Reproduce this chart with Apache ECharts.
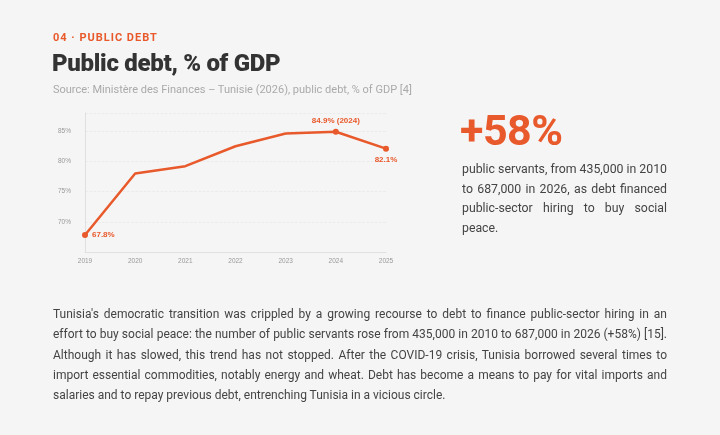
<!DOCTYPE html>
<html>
<head>
<meta charset="utf-8">
<script src="https://cdn.jsdelivr.net/npm/echarts@6/dist/echarts.min.js"></script>
<style>
  html, body { margin: 0; padding: 0; background: #f5f5f5; }
  body { width: 720px; height: 435px; position: relative; overflow: hidden; font-family: Roboto, "Noto Sans", sans-serif; }
  #chart { position: absolute; left: 0; top: 0; width: 720px; height: 435px; }
  .kicker { position: absolute; left: 53px; top: 31px; font-size: 11px; font-weight: 700; color: #e8592b; letter-spacing: 1px; }
  .title { position: absolute; left: 52px; top: 49px; font-size: 24px; font-weight: 900; color: #333; letter-spacing: -0.3px; }
  .source { position: absolute; left: 53px; top: 83px; font-size: 11px; color: #aaa; }
  .big { position: absolute; left: 460px; top: 105px; font-size: 43px; font-weight: 700; color: #e8592b; letter-spacing: -0.5px; }
  .side { position: absolute; left: 462px; top: 160px; width: 205px; font-size: 12.3px; line-height: 19.5px; color: #444; }
  .para { position: absolute; left: 53px; top: 304px; width: 614px; font-size: 12px; line-height: 20.3px; color: #444; }
  .ln { text-align: justify; text-align-last: justify; white-space: nowrap; }
  .ln.last { text-align-last: left; }
</style>
</head>
<body>
<div id="chart"></div>
<div class="kicker">04 · PUBLIC DEBT</div>
<div class="title">Public debt, % of GDP</div>
<div class="source">Source: Ministère des Finances – Tunisie (2026), public debt, % of GDP [4]</div>
<div class="big">+58%</div>
<div class="side">
  <div class="ln">public servants, from 435,000 in 2010</div>
  <div class="ln">to 687,000 in 2026, as debt financed</div>
  <div class="ln">public-sector hiring to buy social</div>
  <div class="ln last">peace.</div>
</div>
<div class="para">
  <div class="ln">Tunisia's democratic transition was crippled by a growing recourse to debt to finance public-sector hiring in an</div>
  <div class="ln">effort to buy social peace: the number of public servants rose from 435,000 in 2010 to 687,000 in 2026 (+58%) [15].</div>
  <div class="ln">Although it has slowed, this trend has not stopped. After the COVID-19 crisis, Tunisia borrowed several times to</div>
  <div class="ln">import essential commodities, notably energy and wheat. Debt has become a means to pay for vital imports and</div>
  <div class="ln last">salaries and to repay previous debt, entrenching Tunisia in a vicious circle.</div>
</div>
<script>
var years = ['2019', '2020', '2021', '2022', '2023', '2024', '2025'];
var debtPct = [67.8, 78.0, 79.2, 82.5, 84.6, 84.9, 82.1];
var labelTexts = ['67.8%', '', '', '', '', '84.9% (2024)', '82.1%'];

var orange = '#e8592b';
var labelPos = ['right', null, null, null, null, 'top', 'bottom'];

var seriesData = debtPct.map(function (v, i) {
    var item = { value: v, symbolSize: labelTexts[i] ? 6 : 0 };
    if (labelTexts[i]) {
        item.label = {
            show: true,
            position: labelPos[i],
            formatter: labelTexts[i],
            color: orange,
            fontWeight: 700,
            fontSize: 8,
            distance: 4
        };
    }
    return item;
});

var chart = echarts.init(document.getElementById('chart'));
chart.setOption({
    backgroundColor: 'transparent',
    animation: false,
    grid: { left: 85, right: 334, top: 113, bottom: 183, containLabel: false },
    xAxis: {
        type: 'category',
        data: years,
        boundaryGap: false,
        axisLine: { lineStyle: { color: '#e0e0e0' } },
        axisTick: { show: false },
        axisLabel: { color: '#999', fontSize: 6.5, margin: 6 }
    },
    yAxis: {
        type: 'value',
        min: 65,
        max: 88,
        interval: 5,
        axisLine: { show: true, lineStyle: { color: '#e0e0e0' } },
        axisTick: { show: false },
        axisLabel: {
            color: '#999', fontSize: 6.5, margin: 14,
            showMinLabel: false, showMaxLabel: false,
            formatter: '{value}%'
        },
        splitLine: { lineStyle: { color: '#e6e6e6', type: 'dashed', width: 0.7 } }
    },
    series: [{
        type: 'line',
        data: seriesData,
        symbol: 'circle',
        showAllSymbol: true,
        lineStyle: { color: orange, width: 2.5 },
        itemStyle: { color: orange },
        label: { show: false }
    }]
});
</script>
</body>
</html>
